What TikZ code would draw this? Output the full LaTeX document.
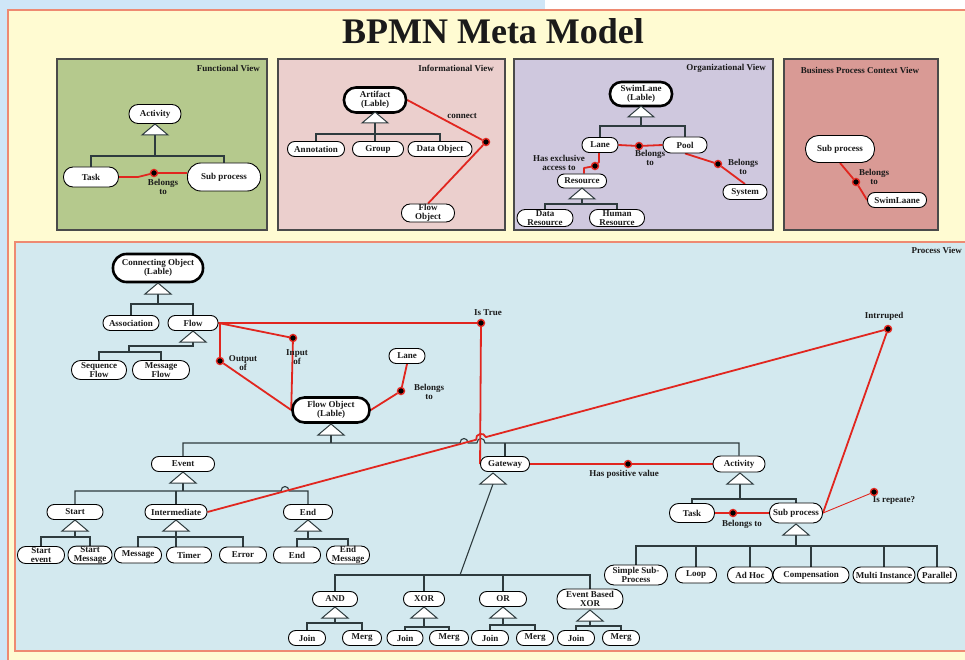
\documentclass[tikz,border=0pt]{standalone}
\usepackage{fontspec}
\setmainfont{Liberation Serif}
\usetikzlibrary{calc}
\pgfdeclarelayer{back}
\pgfdeclarelayer{wires}
\pgfsetlayers{back,wires,main}

\definecolor{slideblue}{HTML}{CFE6F7}
\definecolor{panelyellow}{HTML}{FFFBD2}
\definecolor{frameorange}{HTML}{EE8A72}
\definecolor{funcgreen}{HTML}{B5C98D}
\definecolor{infopink}{HTML}{EBCFCD}
\definecolor{orglav}{HTML}{CFC8DE}
\definecolor{ctxrose}{HTML}{D99A95}
\definecolor{procblue}{HTML}{D3E9EF}
\definecolor{linkred}{HTML}{E1261F}
\definecolor{treegray}{HTML}{2E3B3E}
\definecolor{panelgray}{HTML}{4A4A4A}
\definecolor{inkblack}{HTML}{1A1A1A}

\newcommand{\bpmnfont}{\fontsize{9}{8.8}\selectfont\bfseries}
% generalisation triangle: apex at (#2,#3), base centre named #1b
\newcommand{\gentri}[3]{%
  \coordinate (#1) at (#2,#3);
  \draw[genfill] (#1) -- ++(-13,11) -- ++(26,0) -- cycle;
  \path (#1) ++(0,11) coordinate (#1b);}

\begin{document}
\begin{tikzpicture}[x=1pt,y=-1pt,
  nd/.style 2 args={draw=black, fill=white, line width=0.9pt, minimum width=#1pt,
    minimum height=#2pt, rounded corners=#2*0.48pt, inner sep=0.5pt, align=center,
    font=\bpmnfont, text=inkblack},
  heavy/.style={line width=2.6pt},
  lbl/.style={font=\bpmnfont, align=center, inner sep=0pt, text=inkblack},
  dot/.style={circle, fill=black, draw=linkred, line width=1.4pt, minimum size=7pt, inner sep=0pt},
  link/.style={draw=linkred, line width=1.8pt, line join=round},
  thinlink/.style={draw=linkred, line width=0.9pt},
  tree/.style={draw=treegray, line width=1.1pt},
  genfill/.style={draw=treegray, fill=white, line width=1pt},
  panel/.style={draw=panelgray, line width=1.4pt}]

\useasboundingbox (0,0) rectangle (965,660);

% ---------- backgrounds and view panels ----------
\begin{pgfonlayer}{back}
\fill[white] (0,0) rectangle (965,660);
\fill[slideblue] (0,0) rectangle (545,10);
\fill[slideblue] (0,0) rectangle (8,660);
\filldraw[fill=panelyellow, draw=frameorange, line width=1.6pt] (8,10) rectangle (985,690);
\filldraw[panel, fill=funcgreen] (57,59) rectangle (267,230);
\filldraw[panel, fill=infopink] (278,59) rectangle (505,230);
\filldraw[panel, fill=orglav] (514,59) rectangle (773,230);
\filldraw[panel, fill=ctxrose] (784,59) rectangle (938,230);
\filldraw[fill=procblue, draw=frameorange, line width=1.3pt] (15,242) rectangle (985,651);
\end{pgfonlayer}

\node[font=\fontsize{36}{36}\selectfont\bfseries, text=inkblack] (title) at (493,31) {BPMN Meta Model};

% ---------- Functional View ----------
\node[lbl, anchor=east] (fvLabel) at (260,68) {Functional View};
\node[nd={52}{19}] (fAct) at (155,114) {Activity};
\gentri{fT}{155}{124}
\node[nd={55}{20}] (fTask) at (91,177) {Task};
\node[nd={73}{28}] (fSub) at (224,177) {Sub process};
\node[dot] (fDot) at (154,173) {};
\node[lbl] (fBel) at (163,187) {Belongs\\to};

% ---------- Informational View ----------
\node[lbl, anchor=east] (ivLabel) at (494,68) {Informational View};
\node[nd={62}{25}, heavy] (iArt) at (375,100) {Artifact\\(Lable)};
\gentri{iT}{375}{112}
\node[nd={57}{15}] (iAnn) at (316,149) {Annotation};
\node[nd={51}{15}] (iGrp) at (378,149) {Group};
\node[nd={64}{15}] (iDat) at (440,149) {Data Object};
\node[nd={53}{18}] (iFlow) at (428,213) {Flow\\Object};
\node[dot] (iDot) at (486,142) {};
\node[lbl] (iCon) at (462,116) {connect};

% ---------- Organizational View ----------
\node[lbl, anchor=east] (ovLabel) at (766,68) {Organizational View};
\node[nd={62}{24}, heavy] (oSwim) at (641,94) {SwimLane\\(Lable)};
\gentri{oT}{641}{106}
\node[nd={36}{15}] (oLane) at (600,145) {Lane};
\node[nd={44}{16}] (oPool) at (685,145) {Pool};
\node[nd={49}{14}] (oRes) at (582,181) {Resource};
\gentri{oR}{582}{188}
\node[nd={56}{17}] (oData) at (545,218) {Data\\Resource};
\node[nd={55}{17}] (oHum) at (617,218) {Human\\Resource};
\node[nd={44}{15}] (oSys) at (745,192) {System};
\node[dot] (oD1) at (639,146) {};
\node[dot] (oD2) at (595,166) {};
\node[dot] (oD3) at (718,164) {};
\node[lbl] (oL1) at (650,158) {Belongs\\to};
\node[lbl] (oL2) at (559,163) {Has exclusive\\access to};
\node[lbl] (oL3) at (743,167) {Belongs\\to};

% ---------- Business Process Context View ----------
\node[lbl] (cvLabel) at (860,70) {Business Process Context View};
\node[nd={69}{27}] (cSub) at (840,149) {Sub process};
\node[nd={59}{15}] (cSwim) at (897,200) {SwimLaane};
\node[dot] (cDot) at (856,182) {};
\node[lbl] (cBel) at (874,177) {Belongs\\to};

% ---------- Process View ----------
\node[lbl, anchor=east] (pvLabel) at (962,250) {Process View};
\node[nd={90}{28}, heavy] (pCon) at (158,268) {Connecting Object\\(Lable)};
\gentri{pC}{158}{283}
\node[nd={56}{15}] (pAsc) at (131,323) {Association};
\node[nd={50}{15}] (pFlow) at (193,323) {Flow};
\gentri{pF}{193}{331}
\node[nd={55}{19}] (pSeq) at (99,370) {Sequence\\Flow};
\node[nd={57}{19}] (pMsg) at (161,370) {Message\\Flow};
\node[nd={77}{25}, heavy] (pObj) at (331,410) {Flow Object\\(Lable)};
\gentri{pO}{331}{424}
\node[nd={36}{15}] (pLane) at (407,356) {Lane};

\node[dot] (pTrue) at (481,323) {};
\node[dot] (pIn) at (293,338) {};
\node[dot] (pOut) at (220,361) {};
\node[dot] (pLaneDot) at (401,391) {};
\node[dot] (pIntr) at (888,329) {};
\node[lbl] (pTrueL) at (488,313) {Is True};
\node[lbl] (pInL) at (297,357) {Input\\of};
\node[lbl] (pOutL) at (243,363) {Output\\of};
\node[lbl] (pLaneL) at (429,392) {Belongs\\to};
\node[lbl] (pIntrL) at (884,316) {Intrruped};

% event branch
\node[nd={63}{15}] (pEvt) at (183,464) {Event};
\gentri{pE}{183}{472}
\node[nd={56}{15}] (pStart) at (75,512) {Start};
\node[nd={62}{15}] (pInt) at (176,512) {Intermediate};
\node[nd={49}{15}] (pEnd) at (308,512) {End};
\gentri{pS}{75}{520}
\gentri{pI}{176}{520}
\gentri{pN}{308}{520}
\node[nd={47}{17}] (pSEv) at (41,555) {Start\\event};
\node[nd={44}{17}] (pSMs) at (90,555) {Start\\Message};
\node[nd={47}{16}] (pIMs) at (138,555) {Message};
\node[nd={45}{16}] (pTim) at (189,555) {Timer};
\node[nd={47}{16}] (pErr) at (243,555) {Error};
\node[nd={47}{16}] (pEEn) at (297,555) {End};
\node[nd={43}{18}] (pEMs) at (348,555) {End\\Message};

% gateway branch
\node[nd={49}{15}] (pGw) at (505,464) {Gateway};
\gentri{pG}{493}{473}
\node[nd={45}{15}] (pAND) at (335,599) {AND};
\node[nd={41}{15}] (pXOR) at (424,599) {XOR};
\node[nd={47}{15}] (pOR) at (503,599) {OR};
\node[nd={66}{20}] (pEBX) at (590,599) {Event Based\\XOR};
\gentri{pGa}{335}{607}
\gentri{pGx}{424}{607}
\gentri{pGo}{503}{607}
\gentri{pGe}{590}{610}
\node[nd={37}{15}] (pAJ) at (307,638) {Join};
\node[nd={39}{15}] (pAM) at (362,638) {Merg};
\node[nd={36}{15}] (pXJ) at (405,638) {Join};
\node[nd={39}{15}] (pXM) at (449,638) {Merg};
\node[nd={37}{15}] (pOJ) at (490,638) {Join};
\node[nd={37}{15}] (pOM) at (535,638) {Merg};
\node[nd={37}{15}] (pEJ) at (576,638) {Join};
\node[nd={37}{15}] (pEM) at (621,638) {Merg};

% activity branch
\node[nd={52}{16}] (pAct) at (739,464) {Activity};
\gentri{pA}{740}{473}
\node[nd={45}{19}] (pTask) at (692,513) {Task};
\node[nd={53}{20}] (pSub) at (796,513) {Sub process};
\gentri{pB}{796}{524}
\node[nd={63}{20}] (pSimple) at (636,575) {Simple Sub-\\Process};
\node[nd={41}{16}] (pLoop) at (696,575) {Loop};
\node[nd={45}{16}] (pAdHoc) at (750,575) {Ad Hoc};
\node[nd={76}{16}] (pComp) at (811,575) {Compensation};
\node[nd={62}{16}] (pMulti) at (884,575) {Multi Instance};
\node[nd={39}{16}] (pPar) at (937,575) {Parallel};
\node[dot] (pPos) at (628,464) {};
\node[dot] (pBelDot) at (733,513) {};
\node[dot] (pRep) at (874,492) {};
\node[lbl] (pPosL) at (624,474) {Has positive value};
\node[lbl] (pBelL) at (742,524) {Belongs to};
\node[lbl] (pRepL) at (894,500) {Is repeate?};

% ---------- connectors ----------
\begin{pgfonlayer}{wires}
% functional
\draw[tree] (fTb) -- (fTb |- 0,156);
\draw[tree] (fTask.north) |- (fSub.north |- 0,156) -- (fSub.north);
\draw[link] (fTask.east) -- (138,177) -- (fDot) -- (fSub.west |- fDot);
% informational
\draw[tree] (iTb) -- (iTb |- iGrp.north);
\draw[tree] (iAnn.north) |- (iDat.north |- 0,134) -- (iDat.north);
\draw[link] (iArt.east) -- (iDot) -- (iFlow.north);
% organizational
\draw[tree] (oTb) -- (oTb |- 0,126);
\draw[tree] (oLane.north) |- (oPool.north |- 0,126) -- (oPool.north);
\draw[tree] (oRb) -- (oRb |- 0,204);
\draw[tree] (oData.north) |- (oHum.north |- 0,204) -- (oHum.north);
\draw[link] (oLane.east) -- (oD1) -- (oPool.west);
\draw[link] (oLane.south -| 599,0) -- (599,162) -- (oD2) -- (584,168) -- (oRes.north -| 584,0);
\draw[link] (oPool.south) -- (oD3) -- (oSys.north);
% context
\draw[link] (cSub.south) -- (cDot) -- (cSwim.west);
% process: connecting objects
\draw[tree] (pCb) -- (pCb |- 0,304);
\draw[tree] (pAsc.north) |- (pFlow.north |- 0,304) -- (pFlow.north);
\draw[tree] (pFb) -- (193,346) -- (129,346) -- (129,352);
\draw[tree] (pSeq.north) |- (pMsg.north |- 0,352) -- (pMsg.north);
% process: flow object tree, with hops over the red lines
\draw[tree] (pOb) -- (331,443);
\draw[tree] (pEvt.north) |- (460,443) .. controls (460,437) and (468,437) .. (468,443)
  -- (477,443) .. controls (477,437) and (485,437) .. (485,443) -| (pAct.north);
\draw[tree] (pGw.north) -- (pGw.north |- 0,443);
% event branch
\draw[tree] (pEb) -- (183,491);
\draw[tree] (pStart.north) |- (281,491) .. controls (281,485) and (289,485) .. (289,491) -| (pEnd.north);
\draw[tree] (pInt.north) -- (pInt.north |- 0,491);
\draw[tree] (pSb) -- (pSb |- 0,537);
\draw[tree] (pSEv.north) |- (pSMs.north |- 0,537) -- (pSMs.north);
\draw[tree] (pIb) -- (pIb |- pTim.north);
\draw[tree] (pIMs.north) |- (pErr.north |- 0,537) -- (pErr.north);
\draw[tree] (pNb) -- (pNb |- 0,539);
\draw[tree] (pEEn.north) |- (pEMs.north |- 0,539) -- (pEMs.north);
% gateway branch
\draw[tree] (pGb) -- (460,575);
\draw[tree] (pAND.north) |- (pEBX.north |- 0,575) -- (pEBX.north);
\draw[tree] (pXOR.north) -- (pXOR.north |- 0,575);
\draw[tree] (pOR.north) -- (pOR.north |- 0,575);
\draw[tree] (pGab) -- (pGab |- 0,623);
\draw[tree] (pAJ.north) |- (pAM.north |- 0,623) -- (pAM.north);
\draw[tree] (pGxb) -- (pGxb |- 0,627);
\draw[tree] (pXJ.north) |- (pXM.north |- 0,627) -- (pXM.north);
\draw[tree] (pGob) -- (pGob |- 0,625);
\draw[tree] (pOJ.north) |- (pOM.north |- 0,625) -- (pOM.north);
\draw[tree] (pGeb) -- (pGeb |- 0,626);
\draw[tree] (pEJ.north) |- (pEM.north |- 0,626) -- (pEM.north);
% activity branch
\draw[tree] (pAb) -- (pAb |- 0,499);
\draw[tree] (pTask.north) |- (pSub.north |- 0,499) -- (pSub.north);
\draw[tree] (pBb) -- (pBb |- 0,546);
\draw[tree] (pSimple.north) |- (pPar.north |- 0,546) -- (pPar.north);
\draw[tree] (pLoop.north) -- (pLoop.north |- 0,546);
\draw[tree] (pAdHoc.north) -- (pAdHoc.north |- 0,546);
\draw[tree] (pComp.north) -- (pComp.north |- 0,546);
\draw[tree] (pMulti.north) -- (pMulti.north |- 0,546);
% process: red relations
\draw[link] (pFlow.east) -- (pTrue) -- (pGw.west);
\draw[link] (pFlow.east) -- (pIn) -- (pObj.west);
\draw[link] (pFlow.east) -| (pOut) -- (pObj.west);
\draw[link] (pLane.south) -- (pLaneDot) -- (pObj.east);
\draw[link] (pInt.east) -- (476.2,439.7) .. controls (474.6,433.9) and (484.2,431.3) .. (485.8,437.1) -- (pIntr);
\draw[link] (pIntr) -- (pSub.east);
\draw[thinlink] (pSub.east) -- (pRep);
\draw[link] (pGw.east) -- (pPos) -- (pAct.west);
\draw[link] (pTask.east) -- (pBelDot) -- (pSub.west);
\end{pgfonlayer}
\end{tikzpicture}
\end{document}
